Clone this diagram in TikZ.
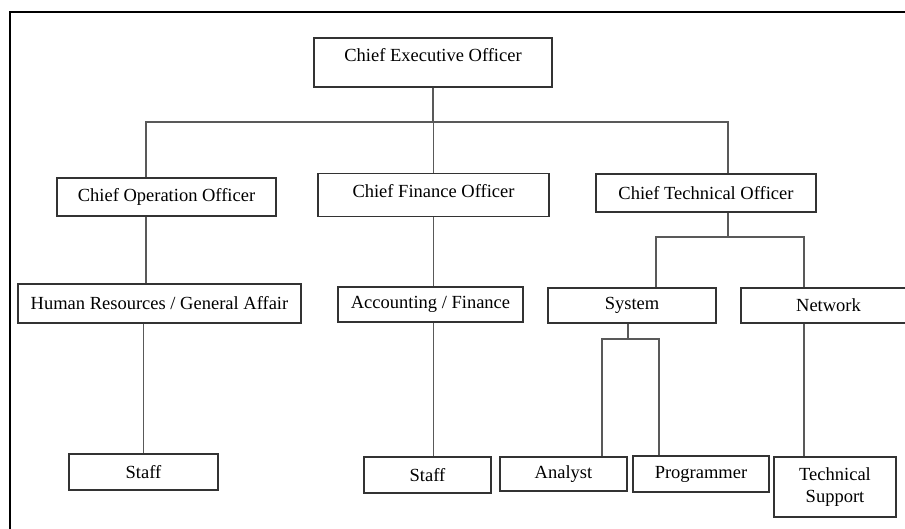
\documentclass[tikz,border=0pt]{standalone}
\usepackage{fontspec}
\setmainfont{Liberation Serif}
\begin{document}
\begin{tikzpicture}[x=1pt,y=-1pt,
  txt/.style={font=\fontsize{18.5}{22}\selectfont},
  box/.style={draw=black!80, line width=1.2pt, rectangle, inner sep=0pt, txt, align=center},
  conn/.style={draw=black!65, line width=1.2pt},
  frame/.style={draw=black, line width=2pt}]
\useasboundingbox (0,0) rectangle (905,529);
\clip (0,0) rectangle (905,529);
% frame
\draw[frame] (10,529) -- (10,12) -- (910,12);
% boxes (centre, width, height)
\node[box, minimum width=238, minimum height=49] (ceo) at (433,62.5) {};
\node[txt] (ceot) at (433,55) {Chief Executive Officer};
\node[box, minimum width=219, minimum height=38] (coo) at (166.5,197) {Chief Operation Officer};
\node[box, minimum width=231, minimum height=43] (cfo) at (433.5,195) {};
\node[txt] (cfot) at (433.5,191) {Chief Finance Officer};
\node[box, minimum width=220, minimum height=38] (cto) at (706,193) {Chief Technical Officer};
\node[box, minimum width=283, minimum height=39] (hr) at (159.5,303.5) {Human Resources / General Affair};
\node[box, minimum width=185, minimum height=35] (acc) at (430.5,304.5) {Accounting / Finance};
\node[box, minimum width=168, minimum height=35] (sys) at (632,305.5) {System};
\node[box, minimum width=175, minimum height=35] (net) at (828.5,305.5) {Network};
\node[box, minimum width=149, minimum height=36] (st1) at (143.5,472) {Staff};
\node[box, minimum width=127, minimum height=36] (st2) at (427.5,475) {Staff};
\node[box, minimum width=127, minimum height=34] (ana) at (563.5,474) {Analyst};
\node[box, minimum width=136, minimum height=36] (prg) at (701,474) {Programmer};
\node[box, minimum width=122, minimum height=60] (tsp) at (835,487) {Technical\\Support};
% junction coordinates
\coordinate (b1) at (146,122);
\coordinate (b3) at (728,122);
\coordinate (t1) at (656,237);
\coordinate (t2) at (804,237);
\coordinate (s0) at (628,339);
\coordinate (s1) at (602,339);
\coordinate (s2) at (659,339);
\coordinate (c1) at (433.5,0);
% connectors
\draw[conn] (ceo.south) -- (ceo.south |- b1);
\draw[conn] (coo.north -| b1) -- (b1) -- (b3) -- (cto.north -| b3);
\draw[conn] (cfo.north) -- (cfo.north |- b1);
\draw[conn] (coo.south -| b1) -- (hr.north -| b1);
\draw[conn] (hr.south -| st1.north) -- (st1.north);
\draw[conn] (cfo.south) -- (acc.north -| cfo.south);
\draw[conn] (acc.south -| c1) -- (st2.north -| c1);
\draw[conn] (cto.south -| b3) -- (b3 |- t1);
\draw[conn] (sys.north -| t1) -- (t1) -- (t2) -- (net.north -| t2);
\draw[conn] (sys.south -| s0) -- (s0);
\draw[conn] (ana.north -| s1) -- (s1) -- (s2) -- (prg.north -| s2);
\draw[conn] (net.south -| t2) -- (tsp.north -| t2);
\end{tikzpicture}
\end{document}
